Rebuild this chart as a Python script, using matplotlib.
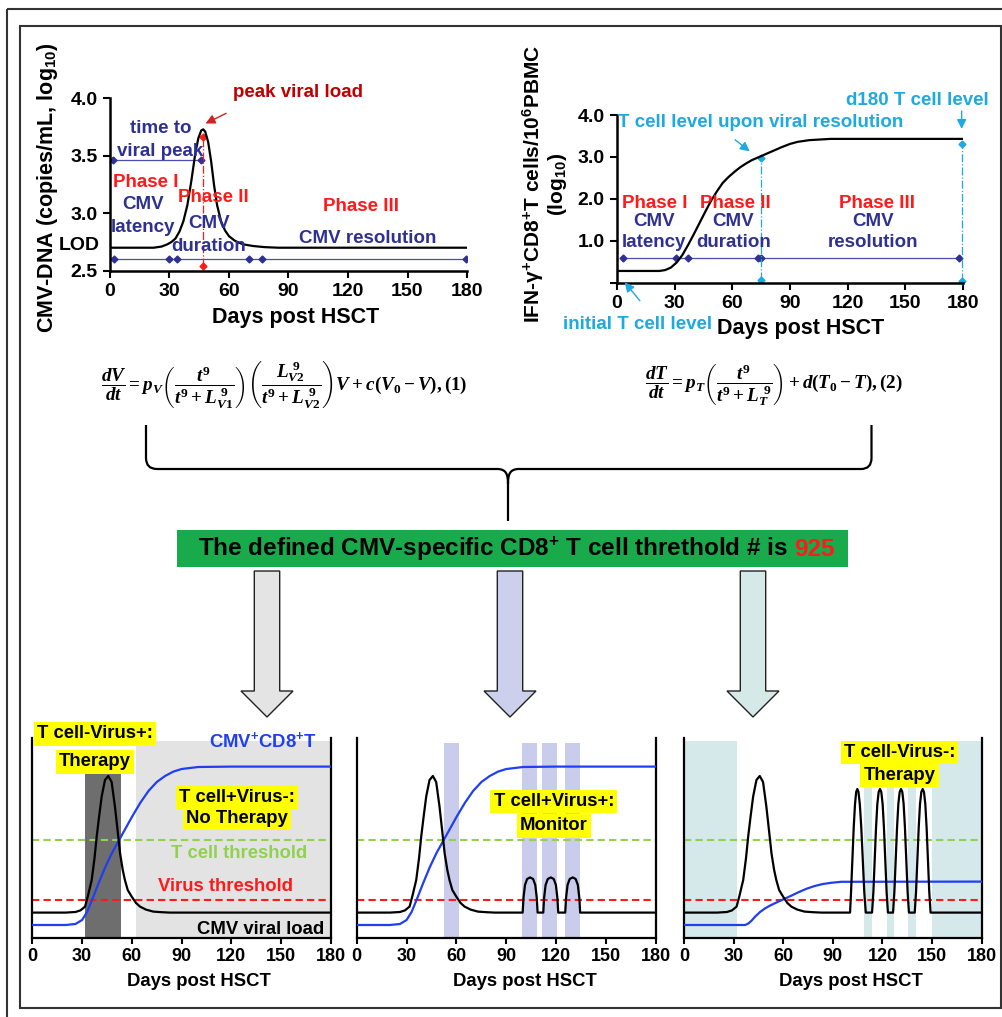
import matplotlib
matplotlib.use('Agg')
import matplotlib.pyplot as plt
from matplotlib.patches import Rectangle, Polygon, PathPatch
from matplotlib.path import Path

plt.rcParams['font.family'] = ['Liberation Sans', 'DejaVu Sans']
plt.rcParams['font.weight'] = 'bold'
plt.rcParams['mathtext.fontset'] = 'custom'
plt.rcParams['mathtext.rm'] = 'Liberation Serif:bold'
plt.rcParams['mathtext.it'] = 'Liberation Serif:italic:bold'
plt.rcParams['mathtext.bf'] = 'Liberation Serif:bold'
plt.rcParams['axes.linewidth'] = 1.5

W, H = 1003, 1017

# ---------------- data ----------------
days_ticks = [0, 30, 60, 90, 120, 150, 180]

# top left: CMV-DNA, log10 copies/mL
tl_days = [0, 15, 22, 26, 29, 31, 33, 35, 37, 39, 41, 43, 44.5, 46, 47, 48, 49.5,
           51, 52.5, 54, 56, 58, 60, 63, 67, 72, 78, 85, 95, 180]
tl_vl = [2.70, 2.70, 2.70, 2.71, 2.73, 2.75, 2.78, 2.84, 2.93, 3.07, 3.28, 3.52, 3.65,
         3.72, 3.73, 3.71, 3.62, 3.45, 3.24, 3.07, 2.93, 2.85, 2.80, 2.76, 2.73, 2.715,
         2.705, 2.70, 2.70, 2.70]
tl_peak_time = [1.7, 45.7]          # "time to viral peak" bar
tl_peak_time_y = 3.46
tl_phase_marks = [1.9, 29.6, 33.6, 70.2, 76.5, 179.5]
tl_phase_y = 2.6
tl_peak_day = 46.7
tl_peak_span = [2.54, 3.66]

# top right: IFN-g+ CD8+ T cells, log10
tr_days = [0, 15, 22, 25, 28, 31, 34, 37, 40, 43, 46, 49, 52, 55, 58, 61, 64, 67, 70,
           73.5, 77, 81, 85.5, 90, 94, 100, 111, 130, 180]
tr_t = [0.28, 0.28, 0.28, 0.30, 0.36, 0.48, 0.66, 0.90, 1.16, 1.43, 1.70, 1.96, 2.18,
        2.38, 2.52, 2.64, 2.75, 2.84, 2.92, 2.99, 3.06, 3.14, 3.23, 3.31, 3.36, 3.40,
        3.43, 3.43, 3.43]
tr_phase_marks = [3, 30.6, 36.7, 73.5, 75, 178]
tr_phase_y = 0.58
tr_resol_day, tr_resol_span = 75, [0.06, 2.98]
tr_d180_day, tr_d180_span = 179.4, [0.05, 3.32]

# bottom panels (arbitrary units, 0-10)
t_thresh = 4.9
v_thresh = 1.9
peak1_days = [0, 20, 26, 29, 31.8, 33.5, 35.8, 37.5, 38.8, 40.3, 41.8, 43.8, 45.8, 47.8,
              49.8, 51.5, 52.9, 54.5, 55.8, 57.5, 59.9, 62.5, 64.9, 68.5, 72.9, 78, 83, 90]
peak1_vl = [1.27, 1.27, 1.30, 1.38, 1.57, 2.1, 2.9, 4.0, 5.07, 6.1, 7.07, 7.9, 8.1, 7.8,
            6.57, 5.3, 4.23, 3.4, 2.9, 2.4, 2.07, 1.75, 1.57, 1.42, 1.32, 1.29, 1.27, 1.27]

p1_days = peak1_days + [180]
p1_vl = peak1_vl + [1.27]

p2_days = peak1_days + [99.8, 100.3, 101.2, 102.5, 104.3, 106.1, 107.4, 108.3, 108.8,
                        112.2, 112.7, 113.6, 114.9, 116.7, 118.5, 119.8, 120.7, 121.2,
                        125.4, 125.9, 126.8, 128.1, 129.9, 131.7, 133.0, 133.9, 134.4, 180]
p2_vl = peak1_vl + [1.27, 2.0, 2.65, 2.95, 3.03, 2.95, 2.65, 2.0, 1.27,
                    1.27, 2.0, 2.65, 2.95, 3.03, 2.95, 2.65, 2.0, 1.27,
                    1.27, 2.0, 2.65, 2.95, 3.03, 2.95, 2.65, 2.0, 1.27, 1.27]

p3_days = peak1_days + [100.4, 101.0, 101.8, 102.6, 103.4, 104.1, 104.8, 105.5, 106.3,
                        107.2, 108.1, 109.0, 109.9,
                        113.7, 114.5, 115.3, 116.1, 116.9, 117.7, 118.5, 119.3, 120.1,
                        120.9, 121.7, 122.5, 123.3,
                        126.4, 127.2, 128.0, 128.8, 129.6, 130.4, 131.2, 132.0, 132.8,
                        133.6, 134.4, 135.2, 136.0,
                        139.5, 140.3, 141.1, 141.9, 142.7, 143.5, 144.3, 145.1, 145.9,
                        146.7, 147.5, 148.3, 149.1, 180]
p3_vl = peak1_vl + [1.27, 2.3, 3.9, 5.5, 6.7, 7.3, 7.45, 7.3, 6.7, 5.5, 3.9, 2.3, 1.27,
                    1.27, 2.3, 3.9, 5.5, 6.7, 7.3, 7.45, 7.3, 6.7, 5.5, 3.9, 2.3, 1.27,
                    1.27, 2.3, 3.9, 5.5, 6.7, 7.3, 7.45, 7.3, 6.7, 5.5, 3.9, 2.3, 1.27,
                    1.27, 2.3, 3.9, 5.5, 6.7, 7.3, 7.45, 7.3, 6.7, 5.5, 3.9, 2.3, 1.27, 1.27]

bt_days = [0, 20, 26, 30, 33, 36, 40, 44, 48, 52, 56, 60, 65, 70, 75, 80, 85, 90, 100, 120, 180]
bt_t = [0.65, 0.65, 0.70, 0.90, 1.30, 1.90, 2.75, 3.55, 4.25, 4.85, 5.45, 6.05, 6.75,
        7.35, 7.80, 8.10, 8.32, 8.45, 8.55, 8.57, 8.57]
bt3_days = [0, 37, 39, 41, 43, 46, 49, 52, 55, 60, 65, 69, 74, 79, 84, 89, 95, 180]
bt3_t = [0.65, 0.65, 0.73, 0.88, 1.07, 1.30, 1.48, 1.62, 1.74, 1.93, 2.12, 2.28, 2.46,
         2.60, 2.70, 2.76, 2.81, 2.82]

p1_therapy = [(31.8, 53.3)]
p1_therapy_top = 8.3
p1_nother = [(62.5, 180)]
p2_monitor = [(52.7, 61.5), (99.4, 108.3), (111.6, 120.5), (125.3, 134.1)]
p3_therapy = [(0, 32.2), (109, 113.5), (122.5, 127), (135.7, 140.2), (149.9, 180)]

# colours
navy = '#2e3192'
navy_line = '#4a4fae'
red = '#ff1a1a'
dkred = '#c00000'
cyan = '#1fa9e1'
blue = '#1f3ff0'
green = '#92d050'
yellow = '#ffff00'


def box(l, t, r, b):
    return [l / W, 1 - b / H, (r - l) / W, (b - t) / H]


fig = plt.figure(figsize=(W / 100, H / 100), dpi=100)

# overlay in pixel coordinates for frames, brace, arrows, banner
ov = fig.add_axes([0, 0, 1, 1])
ov.set_xlim(0, W)
ov.set_ylim(H, 0)
ov.axis('off')
ov.add_patch(Rectangle((7, 9), 1020, 1030, fill=False, lw=1.5, ec='#333333'))
ov.add_patch(Rectangle((20, 26), 981.5, 982, fill=False, lw=1.5, ec='#333333'))

# ---------------- top left ----------------
ax1 = fig.add_axes(box(110, 98.3, 467, 270.7))
ax1.set_facecolor('none')
ax1.plot(tl_days, tl_vl, color='black', lw=1.6, zorder=3)
ax1.plot(tl_peak_time, [tl_peak_time_y] * 2, color=navy_line, lw=0.9, marker='D', ms=3.5,
         mfc=navy, mec=navy)
ax1.plot([tl_phase_marks[0], tl_phase_marks[-1]], [tl_phase_y] * 2, color=navy_line, lw=0.9)
ax1.plot(tl_phase_marks, [tl_phase_y] * len(tl_phase_marks), 'D', ms=3.5, color=navy)
ax1.plot([tl_peak_day] * 2, tl_peak_span, color=red, lw=0.9, ls='-.', marker='D', ms=3.5)
ax1.set_xlim(0, 180)
ax1.set_ylim(2.5, 4.0)
ax1.set_xticks(days_ticks)
ax1.set_yticks([2.5, 3.0, 3.5, 4.0])
ax1.set_yticklabels(['2.5', '3.0', '3.5', '4.0'])
ax1.tick_params(direction='out', length=5, width=1.5, labelsize=14, pad=4)
for s in ['top', 'right']:
    ax1.spines[s].set_visible(False)
for s in ['left', 'bottom']:
    ax1.spines[s].set_linewidth(1.8)
ax1.text(-5, 2.72, 'LOD', ha='right', va='center', fontsize=14)
ax1.annotate('', xy=(46.9, 3.77), xytext=(59.8, 3.88),
             arrowprops=dict(arrowstyle='-|>', color='#d42020', lw=1, mutation_scale=14))
ax1.text(94.8, 4.05, 'peak viral load', color=dkred, fontsize=13.5, ha='center', va='center')
ax1.text(25.4, 3.74, 'time to', color=navy, fontsize=13.5, ha='center', va='center')
ax1.text(25.5, 3.54, 'viral peak', color=navy, fontsize=13.5, ha='center', va='center')
ax1.text(18.1, 3.27, 'Phase I', color=red, fontsize=13.5, ha='center', va='center')
ax1.text(16.8, 3.08, 'CMV', color=navy, fontsize=13.5, ha='center', va='center')
ax1.text(16.8, 2.88, 'latency', color=navy, fontsize=13.5, ha='center', va='center')
ax1.text(52.1, 3.14, 'Phase II', color=red, fontsize=13.5, ha='center', va='center')
ax1.text(49.7, 2.91, 'CMV', color=navy, fontsize=13.5, ha='center', va='center')
ax1.text(49.6, 2.71, 'duration', color=navy, fontsize=13.5, ha='center', va='center')
ax1.text(126.5, 3.06, 'Phase III', color=red, fontsize=13.5, ha='center', va='center')
ax1.text(129.7, 2.78, 'CMV resolution', color=navy, fontsize=13.5, ha='center', va='center')
ov.text(296, 318, 'Days post HSCT', fontsize=15.5, ha='center', va='center')
ov.text(47.5, 188, 'CMV-DNA (copies/mL, log$\\mathregular{_{10}}$)', fontsize=15.5,
        rotation=90, ha='center', va='center')

# ---------------- top right ----------------
ax2 = fig.add_axes(box(617, 115, 963, 282.7))
ax2.set_facecolor('none')
ax2.plot(tr_days, tr_t, color='black', lw=1.6, zorder=3)
ax2.plot([tr_phase_marks[0], tr_phase_marks[-1]], [tr_phase_y] * 2, color=navy_line, lw=0.9)
ax2.plot(tr_phase_marks, [tr_phase_y] * len(tr_phase_marks), 'D', ms=3.5, color=navy)
ax2.plot([tr_resol_day] * 2, tr_resol_span, color=cyan, lw=0.9, ls='-.', marker='D', ms=3.5)
ax2.plot([tr_d180_day] * 2, tr_d180_span, color=cyan, lw=0.9, ls='-.', marker='D', ms=3.5,
         clip_on=False)
ax2.set_xlim(0, 180)
ax2.set_ylim(0, 4)
ax2.set_xticks(days_ticks)
ax2.set_yticks([0, 1, 2, 3, 4])
ax2.set_yticklabels(['', '1.0', '2.0', '3.0', '4.0'])
ax2.tick_params(direction='out', length=5, width=1.5, labelsize=14, pad=4)
for s in ['top', 'right']:
    ax2.spines[s].set_visible(False)
for s in ['left', 'bottom']:
    ax2.spines[s].set_linewidth(1.8)
ax2.text(0.5, 3.81, 'T cell level upon viral resolution', color=cyan, fontsize=13.5,
         ha='left', va='center')
ax2.text(193.5, 4.35, 'd180 T cell level', color=cyan, fontsize=13.5, ha='right',
         va='center')
ax2.text(10.7, -1.0, 'initial T cell level', color=cyan, fontsize=13.5, ha='center',
         va='center')
arr = dict(arrowstyle='-|>', color=cyan, lw=1, mutation_scale=14)
ax2.annotate('', xy=(70.2, 3.09), xytext=(60.3, 3.45), arrowprops=arr)
ax2.annotate('', xy=(179.3, 3.6), xytext=(179.3, 4.16), arrowprops=arr,
             annotation_clip=False)
ax2.annotate('', xy=(3.1, 0.06), xytext=(12.8, -0.48), arrowprops=arr,
             annotation_clip=False)
for x, lab in [(19.5, 'Phase I'), (61.4, 'Phase II'), (135.1, 'Phase III')]:
    ax2.text(x, 1.90, lab, color=red, fontsize=13.5, ha='center', va='center')
for x, lab in [(19.2, 'latency'), (60.5, 'duration'), (133.4, 'resolution')]:
    ax2.text(x, 1.47, 'CMV', color=navy, fontsize=13.5, ha='center', va='center')
    ax2.text(x, 0.95, lab, color=navy, fontsize=13.5, ha='center', va='center')
ov.text(801, 328.3, 'Days post HSCT', fontsize=15.5, ha='center', va='center')
ov.text(533, 184, 'IFN-γ$\\mathregular{^{+}}$CD8$\\mathregular{^{+}}$T cells/10$\\mathregular{^{6}}$PBMC',
        fontsize=15, rotation=90, ha='center', va='center')
ov.text(558, 184, '(log$\\mathregular{_{10}}$)', fontsize=15, rotation=90,
        ha='center', va='center')

# ---------------- equations ----------------
eq1 = (r'$\dfrac{dV}{dt}=p_V\left(\dfrac{t^9}{t^9+L_{V1}^{\ 9}}\right)'
       r'\left(\dfrac{L_{V2}^{\ 9}}{t^9+L_{V2}^{\ 9}}\right)V+c(V_0-V),\mathrm{(1)}$')
eq2 = r'$\dfrac{dT}{dt}=p_T\left(\dfrac{t^9}{t^9+L_T^{\ 9}}\right)+d(T_0-T),\mathrm{(2)}$'
ov.text(284, 385, eq1, fontsize=13.8, ha='center', va='center')
ov.text(774, 385, eq2, fontsize=13.8, ha='center', va='center')

# brace
verts = [(146, 425), (146, 458), (146, 469), (157, 469), (497, 469),
         (506, 469), (508, 474), (508, 484), (508, 521),
         (508, 484), (508, 474), (510, 469), (519, 469), (861, 469),
         (871.5, 469), (871.5, 458), (871.5, 425)]
codes = [Path.MOVETO, Path.LINETO, Path.CURVE3, Path.CURVE3, Path.LINETO,
         Path.CURVE4, Path.CURVE4, Path.CURVE4, Path.LINETO,
         Path.MOVETO, Path.CURVE4, Path.CURVE4, Path.CURVE4, Path.LINETO,
         Path.CURVE3, Path.CURVE3, Path.LINETO]
ov.add_patch(PathPatch(Path(verts, codes), fill=False, lw=1.6, ec='black'))

# banner
ov.add_patch(Rectangle((177.4, 530), 670.9, 36.7, fc='#19aa4c', ec='none'))
ov.text(788, 549, 'The defined CMV-specific CD8$\\mathregular{^{+}}$ T cell threthold # is',
        fontsize=17.5, ha='right', va='center', color='black')
ov.text(794, 549, '925', fontsize=17.5, ha='left', va='center', color=red)

# block arrows
for cx, fc in [(267, '#e4e4e4'), (510, '#cdd0ec'), (753, '#d5e9e8')]:
    pts = [(cx - 12.7, 571), (cx + 12.7, 571), (cx + 12.7, 691), (cx + 26, 691),
           (cx, 717), (cx - 26, 691), (cx - 12.7, 691)]
    ov.add_patch(Polygon(pts, closed=True, fc=fc, ec='#222222', lw=1))


# ---------------- bottom panels ----------------
def bottom_axes(l, r):
    ax = fig.add_axes(box(l, 738, r, 938))
    ax.set_facecolor('none')
    ax.set_xlim(0, 180)
    ax.set_ylim(0, 10)
    ax.spines['top'].set_visible(False)
    for s in ['left', 'right', 'bottom']:
        ax.spines[s].set_linewidth(1.6)
    ax.set_yticks([])
    ax.set_xticks(days_ticks)
    ax.tick_params(axis='x', direction='out', length=4, width=1.5, labelsize=13, pad=3)
    ax.axhline(t_thresh, color=green, ls=(0, (3.5, 2)), lw=1.5, zorder=2)
    ax.axhline(v_thresh, color=red, ls=(0, (3.5, 2)), lw=1.5, zorder=2)
    return ax


def ylabel_box(ax, x, y, s):
    ax.text(x, y, s, fontsize=13.3, ha='center', va='center', clip_on=False,
            bbox=dict(fc=yellow, ec='none', pad=2.2), zorder=5)


b1 = bottom_axes(32.3, 331)
for a, c in p1_nother:
    b1.axvspan(a, c, ymin=0, ymax=0.987, color='#e3e3e3', lw=0, zorder=0)
for a, c in p1_therapy:
    b1.axvspan(a, c, ymin=0, ymax=p1_therapy_top / 10, color='#6e6e6e', lw=0, zorder=0)
b1.plot(bt_days, bt_t, color=blue, lw=1.6, zorder=3)
b1.plot(p1_days, p1_vl, color='black', lw=1.6, zorder=4)
ylabel_box(b1, 37.8, 10.2, 'T cell-Virus+:')
ylabel_box(b1, 37.8, 8.8, 'Therapy')
b1.text(138.9, 9.87, 'CMV$\\mathregular{^{+}}$CD8$\\mathregular{^{+}}$T', color=blue,
        fontsize=13.3, ha='center', va='center')
ylabel_box(b1, 123.6, 7.03, 'T cell+Virus-:')
ylabel_box(b1, 123.2, 5.98, 'No Therapy')
b1.text(124.6, 4.23, 'T cell threshold', color=green, fontsize=13.3, ha='center', va='center')
b1.text(116.6, 2.57, 'Virus threshold', color=red, fontsize=13.3, ha='center', va='center')
b1.text(137.8, 0.4, 'CMV viral load', color='black', fontsize=13.3, ha='center', va='center')

b2 = bottom_axes(356.7, 656)
for a, c in p2_monitor:
    b2.axvspan(a, c, ymin=0, ymax=0.977, color='#c9cceb', lw=0, zorder=0)
b2.plot(bt_days, bt_t, color=blue, lw=1.6, zorder=3)
b2.plot(p2_days, p2_vl, color='black', lw=1.6, zorder=4)
ylabel_box(b2, 118.5, 6.82, 'T cell+Virus+:')
ylabel_box(b2, 118.7, 5.6, 'Monitor')

b3 = bottom_axes(684, 981.7)
for a, c in p3_therapy:
    b3.axvspan(a, c, ymin=0, ymax=0.987, color='#d5e9ea', lw=0, zorder=0)
b3.plot(bt3_days, bt3_t, color=blue, lw=1.6, zorder=3)
b3.plot(p3_days, p3_vl, color='black', lw=1.6, zorder=4)
ylabel_box(b3, 130.4, 9.28, 'T cell-Virus-:')
ylabel_box(b3, 130.3, 8.15, 'Therapy')

for x in [199, 525, 850.7]:
    ov.text(x, 981.7, 'Days post HSCT', fontsize=13.3, ha='center', va='center')

fig.savefig('out.png', dpi=100)
